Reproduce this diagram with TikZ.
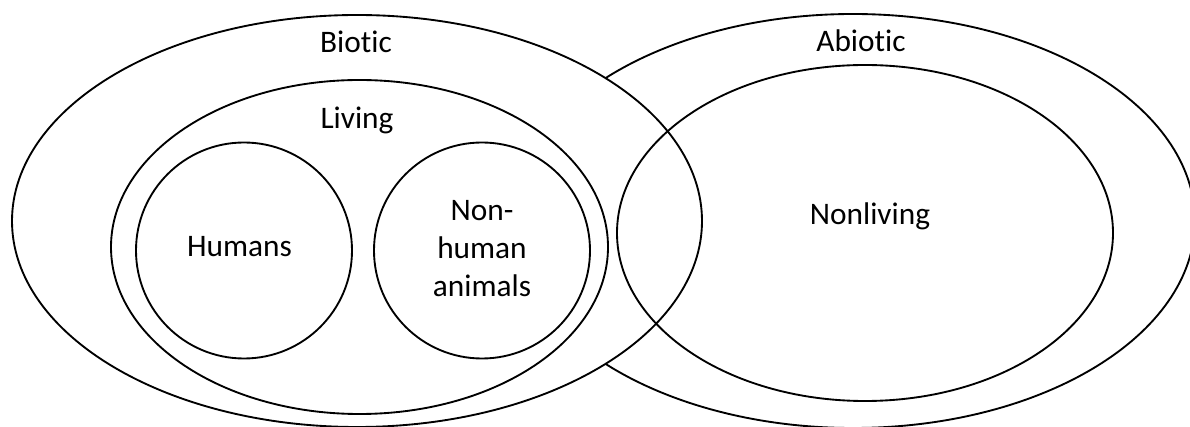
\documentclass[tikz,border=0pt]{standalone}
\usepackage{fontspec}
\setmainfont{Carlito}[Ligatures=NoCommon]

\begin{document}
\begin{tikzpicture}[x=0.75pt,y=-0.75pt,line width=1.4pt,
  set/.style={draw=black},
  lbl/.style={font=\fontsize{23.5}{28.5}\selectfont,inner sep=0pt}]
  \clip (0,0) rectangle (1190,427);
  \fill[white] (0,0) rectangle (1190,427);
  % outer sets, filled so that Abiotic hides under Biotic
  \draw[set,fill=white] (853,221) ellipse [x radius=342, y radius=207];
  \draw[set,fill=white] (357,221) ellipse [x radius=345, y radius=206];
  \draw[set] (359.5,247) ellipse [x radius=248.5, y radius=167];
  \draw[set] (865,233) ellipse [x radius=248, y radius=168];
  \draw[set] (244,250.5) circle [radius=108];
  \draw[set] (482,250.5) circle [radius=108];
  \node[lbl,anchor=base] at (356,53) (biotic) {Biotic};
  \node[lbl,anchor=base] at (861,52) (abiotic) {Abiotic};
  \node[lbl,anchor=base] at (357,129) (living) {Living};
  \node[lbl,anchor=base] at (870,225) (nonliving) {Nonliving};
  \node[lbl,anchor=base] at (239.5,257) (humans) {Humans};
  \node[lbl,align=center] at (482,249) (animals) {Non-\\human\\animals};
\end{tikzpicture}
\end{document}
